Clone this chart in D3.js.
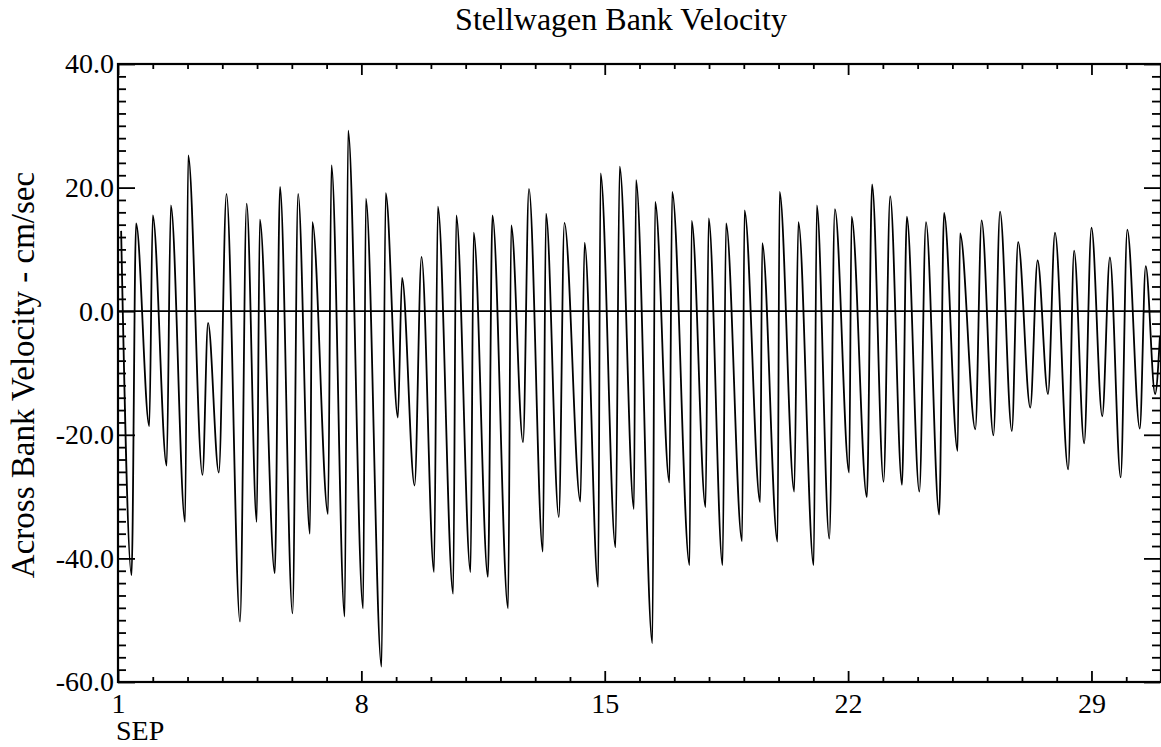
<!DOCTYPE html>
<html>
<head>
<meta charset="utf-8">
<script src="https://cdn.jsdelivr.net/npm/d3@7/dist/d3.min.js"></script>
<style>
  html, body { margin: 0; padding: 0; background: #fff; }
  svg { display: block; }
  text { font-family: "Liberation Serif", "DejaVu Serif", serif; fill: #000; }
</style>
</head>
<body>
<svg id="chart" width="1161" height="747"></svg>
<script>
// ---- data ----
const chartTitle = "Stellwagen Bank Velocity";
const yAxisTitle = "Across Bank Velocity - cm/sec";
const monthLabel = "SEP";
// time in days of September (1 = Sep 1 00:00), at each turning point of the record
const timeDays = [
  1.09, 1.39, 1.52, 1.90, 2.00, 2.40, 2.52, 2.93, 3.02, 3.43,
  3.59, 3.90, 4.12, 4.51, 4.70, 4.99, 5.08, 5.51, 5.66, 6.02,
  6.18, 6.52, 6.59, 7.04, 7.14, 7.52, 7.62, 8.05, 8.13, 8.58,
  8.70, 9.05, 9.17, 9.53, 9.73, 10.09, 10.20, 10.64, 10.73, 11.14,
  11.23, 11.64, 11.77, 12.22, 12.31, 12.65, 12.82, 13.22, 13.31, 13.68,
  13.84, 14.30, 14.42, 14.81, 14.88, 15.31, 15.43, 15.84, 15.90, 16.37,
  16.45, 16.86, 16.94, 17.44, 17.50, 17.90, 17.99, 18.39, 18.49, 18.95,
  19.02, 19.47, 19.53, 19.97, 20.03, 20.45, 20.57, 21.01, 21.10, 21.46,
  21.62, 22.03, 22.10, 22.54, 22.69, 23.02, 23.21, 23.55, 23.69, 24.05,
  24.24, 24.62, 24.76, 25.15, 25.22, 25.66, 25.84, 26.18, 26.37, 26.71,
  26.89, 27.24, 27.45, 27.75, 27.95, 28.33, 28.50, 28.79, 29.00, 29.31,
  29.53, 29.84, 30.03, 30.39, 30.56, 30.83, 30.97
];
// across-bank velocity (cm/sec) at those times
const velocity = [
  13.0, -42.7, 14.2, -18.6, 15.5, -25.0, 17.1, -34.1, 25.2, -26.5,
  -1.9, -26.1, 19.0, -50.2, 17.4, -34.1, 14.8, -42.4, 20.1, -48.9,
  19.0, -36.0, 14.4, -32.8, 23.6, -49.4, 29.2, -48.1, 18.2, -57.5,
  19.1, -17.2, 5.4, -28.2, 8.8, -42.2, 16.9, -45.7, 15.5, -42.2,
  12.7, -43.0, 15.5, -48.1, 13.9, -21.2, 19.8, -38.9, 15.8, -33.3,
  14.3, -30.8, 11.1, -44.6, 22.3, -38.2, 23.4, -32.0, 21.2, -53.7,
  17.7, -27.7, 19.3, -41.1, 14.6, -31.7, 15.0, -41.1, 14.2, -37.2,
  16.3, -30.9, 11.0, -37.3, 19.3, -29.2, 14.4, -41.1, 17.1, -36.8,
  16.5, -26.1, 15.3, -30.1, 20.5, -27.6, 18.6, -28.1, 15.3, -29.2,
  14.4, -32.9, 15.9, -22.6, 12.6, -19.1, 14.7, -20.1, 16.1, -19.4,
  11.2, -15.6, 8.2, -13.4, 12.7, -25.6, 9.8, -21.4, 13.5, -17.0,
  8.7, -26.9, 13.2, -19.0, 7.3, -13.4, -4.0
];
const yTickValues = [40, 20, 0, -20, -40, -60];
const yTickLabels = ["40.0", "20.0", "0.0", "-20.0", "-40.0", "-60.0"];
const xMajorDays = [1, 8, 15, 22, 29];
const xTickLabels = ["1", "8", "15", "22", "29"];

// ---- layout ----
const svg = d3.select("#chart");
const mLeft = 118, mRight = 1161, mTop = 64, mBottom = 682;

const x = d3.scaleLinear().domain([1, 31]).range([mLeft, mRight]);
const y = d3.scaleLinear().domain([-60, 40]).range([mBottom, mTop]);

const minorDays = d3.range(2, 31).filter(d => !xMajorDays.includes(d));
const minorY = d3.range(-58, 40, 2).filter(v => !yTickValues.includes(v));

function styleAxis(g) {
  g.select(".domain").remove();
  g.selectAll("line").attr("stroke", "#000").attr("stroke-width", 1.8);
}

// frame
svg.append("rect")
  .attr("x", mLeft).attr("y", mTop)
  .attr("width", mRight - mLeft).attr("height", mBottom - mTop)
  .attr("fill", "none").attr("stroke", "#000").attr("stroke-width", 2.2);

// left axis: inward ticks, labels outside
svg.append("g").attr("transform", `translate(${mLeft},0)`)
  .call(d3.axisLeft(y).tickValues(minorY).tickSize(-8).tickFormat(""))
  .call(styleAxis);
svg.append("g").attr("transform", `translate(${mLeft},0)`)
  .call(d3.axisLeft(y).tickValues(yTickValues).tickSize(-17)
        .tickPadding(4).tickFormat((d, i) => yTickLabels[i]))
  .call(styleAxis)
  .call(g => g.selectAll("text")
      .style("font-size", "28px").style("font-family", "Liberation Serif"));

// right axis: inward ticks
svg.append("g").attr("transform", `translate(${mRight - 1},0)`)
  .call(d3.axisRight(y).tickValues(minorY).tickSize(-8).tickFormat(""))
  .call(styleAxis);
svg.append("g").attr("transform", `translate(${mRight - 1},0)`)
  .call(d3.axisRight(y).tickValues(yTickValues).tickSize(-16).tickFormat(""))
  .call(styleAxis);

// bottom axis
svg.append("g").attr("transform", `translate(0,${mBottom})`)
  .call(d3.axisBottom(x).tickValues(minorDays).tickSize(-5).tickFormat(""))
  .call(styleAxis);
svg.append("g").attr("transform", `translate(0,${mBottom})`)
  .call(d3.axisBottom(x).tickValues(xMajorDays).tickSize(-11)
        .tickPadding(11).tickFormat((d, i) => xTickLabels[i]))
  .call(styleAxis)
  .call(g => g.selectAll("text")
      .style("font-size", "28px").attr("dy", "0.71em")
      .style("font-family", "Liberation Serif"));

// top axis
svg.append("g").attr("transform", `translate(0,${mTop})`)
  .call(d3.axisTop(x).tickValues(minorDays).tickSize(-5).tickFormat(""))
  .call(styleAxis);
svg.append("g").attr("transform", `translate(0,${mTop})`)
  .call(d3.axisTop(x).tickValues(xMajorDays).tickSize(-11).tickFormat(""))
  .call(styleAxis);

// month label
svg.append("text")
  .attr("x", x(1) - 2).attr("y", 740)
  .style("font-size", "28px").text(monthLabel);

// zero line
svg.append("line")
  .attr("x1", mLeft).attr("x2", mRight)
  .attr("y1", y(0)).attr("y2", y(0))
  .attr("stroke", "#000").attr("stroke-width", 1.8);

// velocity trace
const pts = timeDays.map((t, i) => [t, velocity[i]]);
svg.append("path")
  .datum(pts)
  .attr("fill", "none")
  .attr("stroke", "#000")
  .attr("stroke-width", 1.8)
  .attr("stroke-linejoin", "round")
  .attr("d", d3.line().x(d => x(d[0])).y(d => y(d[1])).curve(d3.curveMonotoneX));

// title
svg.append("text")
  .attr("x", 621).attr("y", 30)
  .attr("text-anchor", "middle")
  .style("font-size", "32px")
  .text(chartTitle);

// y axis title
svg.append("text")
  .attr("transform", `translate(34,${375}) rotate(-90)`)
  .attr("text-anchor", "middle")
  .style("font-size", "33px")
  .text(yAxisTitle);
</script>
</body>
</html>
